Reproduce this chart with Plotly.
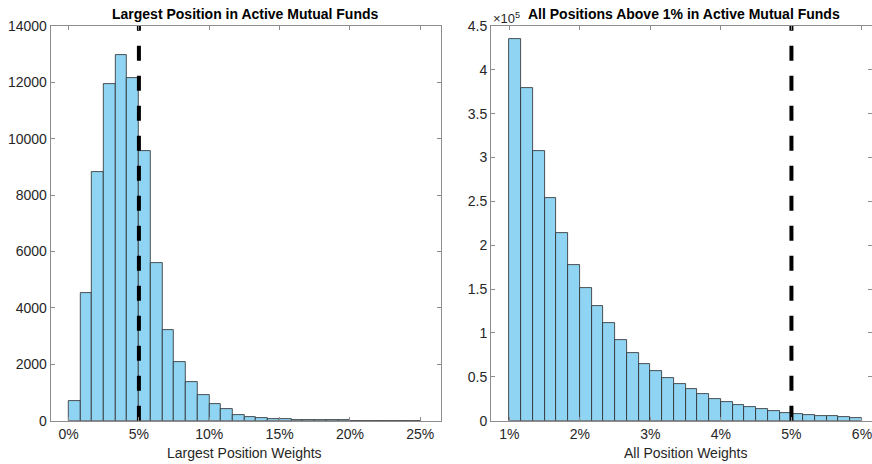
import numpy as np
import plotly.graph_objects as go

# Histogram of the largest single position per fund (weights in %)
largest_edges = np.linspace(0, 25, 31)
largest_counts = [690, 4530, 8830, 11930, 12970, 12170, 9580, 5580, 3220, 2090,
                  1360, 900, 600, 415, 210, 135, 85, 60, 45, 25,
                  12, 10, 35, 8, 5, 5, 3, 0, 0, 0]

# Histogram of every position weighing more than 1% (weights in %)
all_edges = np.linspace(1, 6, 31)
all_counts = [435000, 379000, 307000, 254000, 214000, 178000, 151000, 131000, 111000, 92000,
              77500, 65000, 56300, 49000, 42200, 35800, 30100, 25100, 21000, 17900,
              15300, 13000, 10700, 9100, 8000, 6800, 5800, 5000, 4300, 3500]

threshold = 5  # 5% reference line

left_xticks = [0, 5, 10, 15, 20, 25]
right_xticks = [1, 2, 3, 4, 5, 6]
left_yticks = list(range(0, 14001, 2000))
right_yticks = [i * 50000 for i in range(10)]
right_yticktext = ["0", "0.5", "1", "1.5", "2", "2.5", "3", "3.5", "4", "4.5"]

W, H = 872, 464
FONT = "Liberation Sans, Arial, Helvetica, sans-serif"
TXT = "#262626"
AX = "#8c8c8c"
BAR_FILL = "rgb(143,212,242)"
BAR_EDGE = "#2a2a2a"


def px_x(px):
    return px / W


def px_y(py):
    return (H - py) / H


def bars(edges, counts, xa, ya):
    edges = np.asarray(edges)
    centers = (edges[:-1] + edges[1:]) / 2
    widths = np.diff(edges)
    return go.Bar(x=centers, y=counts, width=widths, xaxis=xa, yaxis=ya,
                  marker=dict(color=BAR_FILL, line=dict(color=BAR_EDGE, width=0.8)),
                  showlegend=False, hoverinfo="x+y")


fig = go.Figure()
fig.add_trace(bars(largest_edges, largest_counts, "x", "y"))
fig.add_trace(bars(all_edges, all_counts, "x2", "y2"))

# Dashed threshold lines drawn bottom-up over the full y span
fig.add_trace(go.Scatter(x=[threshold, threshold], y=[0, left_yticks[-1]], mode="lines",
                         xaxis="x", yaxis="y", showlegend=False,
                         line=dict(color="black", width=4, dash="15px,15px")))
fig.add_trace(go.Scatter(x=[threshold, threshold], y=[0, right_yticks[-1]], mode="lines",
                         xaxis="x2", yaxis="y2", showlegend=False,
                         line=dict(color="black", width=4, dash="15px,15px")))

ydom = [px_y(420.7), px_y(26)]
axis_common = dict(showline=True, linecolor=AX, linewidth=1, mirror="ticks",
                   ticks="inside", ticklen=4, tickcolor=AX, showgrid=False,
                   zeroline=False, automargin=False, ticklabeloverflow="allow",
                   tickfont=dict(family=FONT, size=14, color=TXT))

fig.update_layout(
    width=W, height=H,
    margin=dict(l=0, r=0, t=0, b=0, autoexpand=False),
    paper_bgcolor="white", plot_bgcolor="white",
    bargap=0,
    xaxis=dict(domain=[px_x(50.7), px_x(440.7)], range=[-1.27, 26.45],
               tickvals=left_xticks, ticktext=[f"{v}%" for v in left_xticks],
               anchor="y", **axis_common),
    yaxis=dict(domain=ydom, range=[0, 14000], tickvals=left_yticks,
               ticktext=[str(v) for v in left_yticks], anchor="x", **axis_common),
    xaxis2=dict(domain=[px_x(491), 1.0], range=[0.741, 6.142],
                tickvals=right_xticks, ticktext=[f"{v}%" for v in right_xticks],
                anchor="y2", **axis_common),
    yaxis2=dict(domain=ydom, range=[0, 450000], tickvals=right_yticks,
                ticktext=right_yticktext, anchor="x2", **axis_common),
)

ann = [
    dict(text="<b>Largest Position in Active Mutual Funds</b>", x=px_x(245), y=px_y(14)),
    dict(text="<b>All Positions Above 1% in Active Mutual Funds</b>", x=px_x(684), y=px_y(14)),
    dict(text="Largest Position Weights", x=px_x(244.7), y=px_y(453)),
    dict(text="All Position Weights", x=px_x(685.3), y=px_y(453)),
]
for a in ann:
    fig.add_annotation(xref="paper", yref="paper", showarrow=False,
                       xanchor="center", yanchor="middle",
                       font=dict(family=FONT, size=14, color="black" if "<b>" in a["text"] else TXT),
                       **a)

fig.add_annotation(xref="paper", yref="paper", showarrow=False, xanchor="left", yanchor="middle",
                   x=px_x(491), y=px_y(18), text="×10<sup>5</sup>",
                   font=dict(family=FONT, size=13, color=TXT))

fig.write_html("out.html")
